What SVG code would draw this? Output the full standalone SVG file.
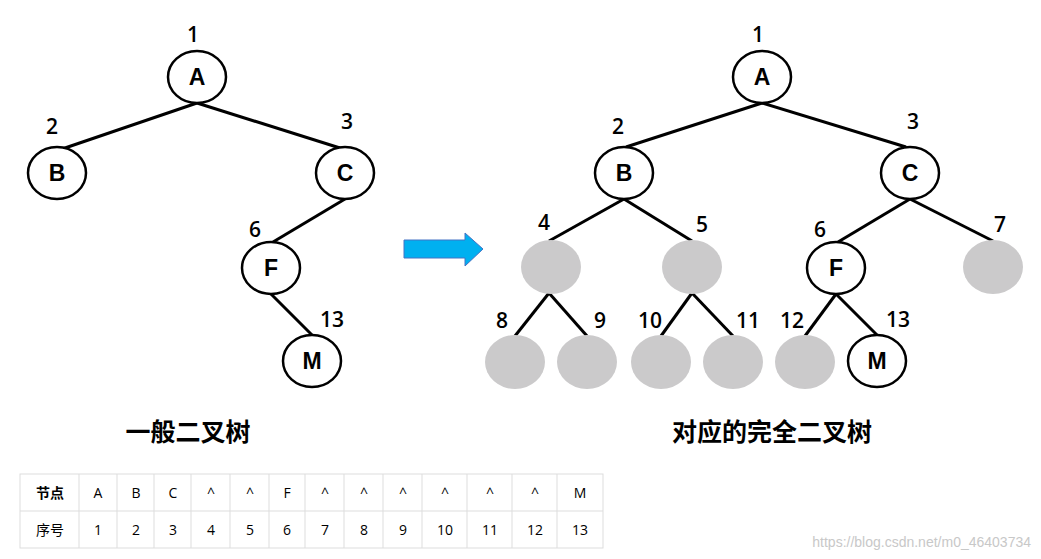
<svg xmlns="http://www.w3.org/2000/svg" width="1041" height="559" viewBox="0 0 1041 559">
<style>
.n ellipse{fill:#fff;stroke:#000;stroke-width:2.5}
.g ellipse{fill:#cbcacb}
.n text{font-family:"Liberation Sans",Arial,sans-serif;font-size:23px;font-weight:bold;text-anchor:middle}
.lb{font-family:"Open Sans","Liberation Sans",sans-serif;font-size:21px;font-weight:600;text-anchor:middle}
#edges line{stroke:#000;stroke-width:3}
.cap{font-family:"Noto Sans CJK SC",sans-serif;font-size:25px;font-weight:bold;text-anchor:middle}
.t{font-family:"Open Sans","Noto Sans CJK SC",sans-serif;font-size:14px;text-anchor:middle}
#table line{stroke:#ddd;stroke-width:1}
</style>
<rect width="1041" height="559" fill="#fff"/>
<g id="edges">
<line x1="197" y1="103" x2="62" y2="149"/><line x1="197" y1="103" x2="340" y2="148"/>
<line x1="345" y1="199" x2="273" y2="242"/><line x1="271" y1="294" x2="312" y2="335"/>
<line x1="762" y1="103" x2="626" y2="147"/><line x1="762" y1="103" x2="906" y2="147"/>
<line x1="624" y1="199" x2="549" y2="241"/><line x1="624" y1="199" x2="692" y2="241"/>
<line x1="910" y1="199" x2="838" y2="242"/><line x1="910" y1="199" x2="993" y2="241"/>
<line x1="549" y1="293" x2="515" y2="336"/><line x1="549" y1="293" x2="587" y2="336"/>
<line x1="692" y1="293" x2="661" y2="336"/><line x1="692" y1="293" x2="733" y2="336"/>
<line x1="836" y1="294" x2="805" y2="336"/><line x1="836" y1="294" x2="877" y2="335"/>
</g>
<g id="L_A" class="n"><ellipse cx="197" cy="77" rx="29" ry="26"/><text x="197" y="85">A</text></g>
<g id="L_B" class="n"><ellipse cx="57" cy="173" rx="29" ry="26"/><text x="57" y="181">B</text></g>
<g id="L_C" class="n"><ellipse cx="345" cy="173" rx="29" ry="26"/><text x="345" y="181">C</text></g>
<g id="L_F" class="n"><ellipse cx="271" cy="268" rx="29" ry="26"/><text x="271" y="276">F</text></g>
<g id="L_M" class="n"><ellipse cx="312" cy="361" rx="29" ry="26"/><text x="312" y="369">M</text></g>
<g id="R_A" class="n"><ellipse cx="762" cy="77" rx="29" ry="26"/><text x="762" y="85">A</text></g>
<g id="R_B" class="n"><ellipse cx="624" cy="173" rx="29" ry="26"/><text x="624" y="181">B</text></g>
<g id="R_C" class="n"><ellipse cx="910" cy="173" rx="29" ry="26"/><text x="910" y="181">C</text></g>
<g id="R_F" class="n"><ellipse cx="836" cy="268" rx="29" ry="26"/><text x="836" y="276">F</text></g>
<g id="R_M" class="n"><ellipse cx="877" cy="361" rx="29" ry="26"/><text x="877" y="369">M</text></g>
<g id="R_4" class="g"><ellipse cx="551" cy="267" rx="30" ry="27"/></g>
<g id="R_5" class="g"><ellipse cx="692" cy="267" rx="30" ry="27"/></g>
<g id="R_7" class="g"><ellipse cx="993" cy="267" rx="30" ry="27"/></g>
<g id="R_8" class="g"><ellipse cx="515" cy="362" rx="30" ry="27"/></g>
<g id="R_9" class="g"><ellipse cx="587" cy="362" rx="30" ry="27"/></g>
<g id="R_10" class="g"><ellipse cx="661" cy="362" rx="30" ry="27"/></g>
<g id="R_11" class="g"><ellipse cx="733" cy="362" rx="30" ry="27"/></g>
<g id="R_12" class="g"><ellipse cx="805" cy="362" rx="30" ry="27"/></g>
<g id="labels" class="lb">
<text x="193" y="42">1</text><text x="52" y="134">2</text><text x="347" y="129">3</text><text x="255" y="237">6</text><text x="332" y="327">13</text>
<text x="758" y="42">1</text><text x="618" y="134">2</text><text x="913" y="129">3</text><text x="544" y="230">4</text><text x="702" y="232">5</text><text x="820" y="237">6</text><text x="1000" y="232">7</text>
<text x="502" y="328">8</text><text x="600" y="328">9</text><text x="650" y="328">10</text><text x="748" y="328">11</text><text x="792" y="328">12</text><text x="898" y="327">13</text>
</g>
<polygon points="404,240 465,240 465,233 483,249 465,266 465,258 404,258" fill="#00b0f0" stroke="#4472c4" stroke-width="1"/>
<text class="cap" x="188" y="441">一般二叉树</text>
<text class="cap" x="772" y="441">对应的完全二叉树</text>
<g id="table">
<rect x="20" y="474" width="583" height="74" fill="none" stroke="#ddd"/>
<line x1="20" y1="511" x2="603" y2="511"/>
<line x1="79" y1="474" x2="79" y2="548"/><line x1="117" y1="474" x2="117" y2="548"/><line x1="154" y1="474" x2="154" y2="548"/><line x1="191" y1="474" x2="191" y2="548"/><line x1="230" y1="474" x2="230" y2="548"/><line x1="269" y1="474" x2="269" y2="548"/><line x1="305" y1="474" x2="305" y2="548"/><line x1="344" y1="474" x2="344" y2="548"/><line x1="383" y1="474" x2="383" y2="548"/><line x1="422" y1="474" x2="422" y2="548"/><line x1="467" y1="474" x2="467" y2="548"/><line x1="512" y1="474" x2="512" y2="548"/><line x1="557" y1="474" x2="557" y2="548"/>
<g class="t">
<text x="50" y="498" font-weight="bold">节点</text><text x="98" y="498">A</text><text x="136" y="498">B</text><text x="173" y="498">C</text><text x="211" y="498">^</text><text x="250" y="498">^</text><text x="287" y="498">F</text><text x="325" y="498">^</text><text x="364" y="498">^</text><text x="403" y="498">^</text><text x="445" y="498">^</text><text x="490" y="498">^</text><text x="535" y="498">^</text><text x="580" y="498">M</text>
<text x="50" y="535">序号</text><text x="98" y="535">1</text><text x="136" y="535">2</text><text x="173" y="535">3</text><text x="211" y="535">4</text><text x="250" y="535">5</text><text x="287" y="535">6</text><text x="325" y="535">7</text><text x="364" y="535">8</text><text x="403" y="535">9</text><text x="445" y="535">10</text><text x="490" y="535">11</text><text x="535" y="535">12</text><text x="580" y="535">13</text>
</g>
</g>
<text x="1031" y="547" text-anchor="end" font-family="'Liberation Sans',Arial,sans-serif" font-size="14" fill="#c8c8c8">https://blog.csdn.net/m0_46403734</text>
</svg>
